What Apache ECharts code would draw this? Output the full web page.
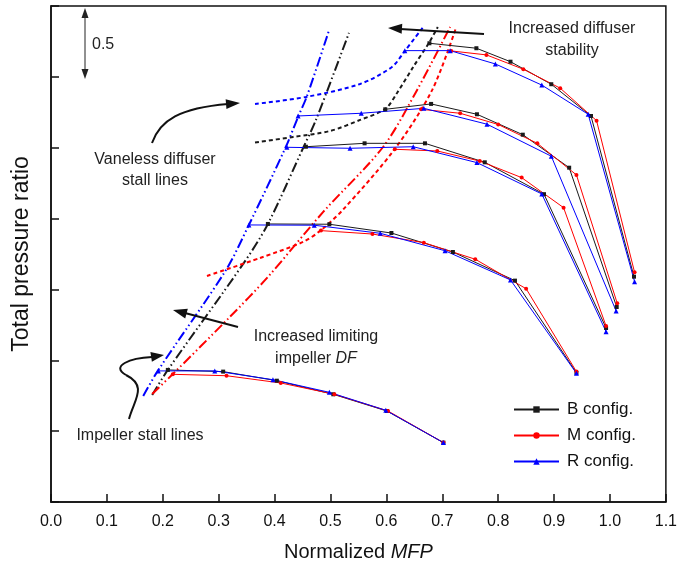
<!DOCTYPE html>
<html><head><meta charset="utf-8">
<script src="https://cdn.jsdelivr.net/npm/echarts@6/dist/echarts.min.js"></script>
<style>html,body{margin:0;padding:0;background:#fff}#c{width:680px;height:573px}</style>
</head><body><div id="c"></div>
<script>
// ---- data (Normalized MFP, Total pressure ratio) ----
const X_TICKS = [0.0,0.1,0.2,0.3,0.4,0.5,0.6,0.7,0.8,0.9,1.0,1.1];
const CONFIGS = ['B config.','M config.','R config.'];
const B_MFP = [
 [0.209,0.308,0.404,0.505,0.601,0.702],
 [0.388,0.498,0.609,0.719,0.830,0.940],
 [0.456,0.561,0.669,0.776,0.882,0.993],
 [0.598,0.680,0.762,0.844,0.927,1.012],
 [0.677,0.761,0.822,0.895,0.966,1.043]
];
const B_PR = [
 [1.432,1.420,1.356,1.260,1.142,0.919],
 [2.462,2.460,2.398,2.264,2.062,1.412],
 [3.007,3.031,3.031,2.897,2.672,1.728],
 [3.271,3.309,3.236,3.092,2.859,1.876],
 [3.737,3.702,3.607,3.448,3.224,2.090]
];
const M_MFP = [
 [0.218,0.314,0.411,0.507,0.603,0.702],
 [0.483,0.575,0.667,0.759,0.850,0.940],
 [0.615,0.691,0.767,0.842,0.917,0.993],
 [0.662,0.732,0.800,0.870,0.940,1.013],
 [0.716,0.779,0.845,0.911,0.976,1.044]
];
const M_PR = [
 [1.401,1.391,1.340,1.260,1.142,0.919],
 [2.415,2.391,2.330,2.213,2.005,1.420],
 [2.989,2.977,2.906,2.789,2.577,1.742],
 [3.271,3.243,3.164,3.031,2.808,1.902],
 [3.683,3.655,3.554,3.420,3.191,2.121]
];
const R_MFP = [
 [0.192,0.293,0.397,0.498,0.599,0.702],
 [0.354,0.471,0.589,0.705,0.822,0.940],
 [0.422,0.535,0.648,0.762,0.878,0.993],
 [0.442,0.555,0.667,0.780,0.895,1.011],
 [0.633,0.714,0.795,0.878,0.961,1.044]
];
const R_PR = [
 [1.425,1.425,1.363,1.274,1.147,0.919],
 [2.455,2.453,2.396,2.273,2.067,1.408],
 [3.003,2.996,3.007,2.895,2.674,1.702],
 [3.224,3.243,3.278,3.166,2.940,1.848],
 [3.685,3.685,3.591,3.442,3.236,2.055]
];
// impeller stall lines (dash-dot-dot)
const IMP_B_X = [0.181,0.209,0.345,0.388,0.451,0.474,0.533];
const IMP_B_Y = [1.255,1.432,2.187,2.462,2.998,3.196,3.810];
const IMP_M_X = [0.181,0.218,0.320,0.388,0.487,0.594,0.655,0.714];
const IMP_M_Y = [1.262,1.403,1.806,2.088,2.547,3.005,3.408,3.852];
const IMP_R_X = [0.165,0.191,0.313,0.354,0.420,0.442,0.458,0.497];
const IMP_R_Y = [1.248,1.425,2.137,2.455,3.005,3.217,3.365,3.824];
// vaneless diffuser stall lines (dashed)
const VD_B_X = [0.365,0.433,0.499,0.553,0.598,0.619,0.648,0.676,0.692];
const VD_B_Y = [3.037,3.076,3.118,3.196,3.274,3.386,3.570,3.739,3.852];
const VD_M_X = [0.279,0.374,0.451,0.481,0.522,0.615,0.682,0.725];
const VD_M_Y = [2.095,2.222,2.335,2.412,2.561,2.991,3.408,3.852];
const VD_R_X = [0.365,0.456,0.553,0.610,0.633,0.666];
const VD_R_Y = [3.309,3.358,3.450,3.570,3.683,3.852];

const FONT = '"Liberation Sans", Arial, sans-serif';
const COL = {B:'#1a1a1a', M:'#ff0000', R:'#0000ff'};
const zip = (xs, ys) => xs.map((x,i)=>[x, ys[i]]);

const series = [];
const cfg = [
  {name:CONFIGS[0], X:B_MFP, Y:B_PR, c:COL.B, sym:'rect', size:4},
  {name:CONFIGS[1], X:M_MFP, Y:M_PR, c:COL.M, sym:'circle', size:4},
  {name:CONFIGS[2], X:R_MFP, Y:R_PR, c:COL.R, sym:'triangle', size:5}
];
cfg.forEach(cf => {
  cf.X.forEach((xs, i) => {
    series.push({type:'line', name:cf.name, data:zip(xs, cf.Y[i]), symbol:cf.sym, symbolSize:cf.size,
      showSymbol:true, lineStyle:{width:1, color:cf.c}, itemStyle:{color:cf.c}, z:4, animation:false});
  });
});
const DDOT = [10,3,1.5,3,1.5,3];
const stall = [
  [IMP_B_X, IMP_B_Y, COL.B, DDOT], [IMP_M_X, IMP_M_Y, COL.M, DDOT], [IMP_R_X, IMP_R_Y, COL.R, DDOT],
  [VD_B_X, VD_B_Y, COL.B, [4,3]], [VD_M_X, VD_M_Y, COL.M, [4,3]], [VD_R_X, VD_R_Y, COL.R, [4,3]]
];
stall.forEach(s => {
  series.push({type:'line', data:zip(s[0], s[1]), smooth:0.3, showSymbol:false, symbol:'none',
    lineStyle:{width:2, color:s[2], type:s[3]}, z:3, animation:false, silent:true});
});

function arrowHead(tx, ty, dx, dy, len, half, color){
  const l = Math.hypot(dx,dy); dx/=l; dy/=l;
  const bx = tx - dx*len, by = ty - dy*len;
  return {type:'polygon', shape:{points:[[tx,ty],[bx - dy*half, by + dx*half],[bx + dy*half, by - dx*half]]},
    style:{fill:color}, z:10};
}
const txt = (x, y, text, extra) => Object.assign({type:'text', x, y,
  style:{text, font:'16px '+FONT, fill:'#222', textAlign:'center', textVerticalAlign:'middle'}, z:10}, extra||{});

const graphic = [
  // 0.5 scale bar
  {type:'line', shape:{x1:85,y1:14,x2:85,y2:72}, style:{stroke:'#222', lineWidth:1}, z:10},
  arrowHead(85, 8, 0, -1, 10, 3.5, '#222'),
  arrowHead(85, 79, 0, 1, 10, 3.5, '#222'),
  {type:'text', x:92, y:45, style:{text:'0.5', font:'16px '+FONT, fill:'#222', textVerticalAlign:'middle'}, z:10},
  // Increased diffuser stability
  {type:'line', shape:{x1:484,y1:34,x2:400,y2:29}, style:{stroke:'#111', lineWidth:2.2}, z:10},
  arrowHead(388, 28, -1, -0.06, 14, 5, '#111'),
  txt(572, 29, 'Increased diffuser'),
  txt(572, 51, 'stability'),
  // Vaneless diffuser stall lines
  {type:'bezierCurve', shape:{x1:152,y1:143,cpx1:160,cpy1:120,cpx2:180,cpy2:108,x2:228,y2:104},
    style:{stroke:'#111', lineWidth:2, fill:null}, z:10},
  arrowHead(240, 103, 1, -0.08, 14, 5, '#111'),
  txt(155, 160, 'Vaneless diffuser'),
  txt(155, 181, 'stall lines'),
  // Increased limiting impeller DF
  {type:'line', shape:{x1:238,y1:327,x2:185,y2:313}, style:{stroke:'#111', lineWidth:2}, z:10},
  arrowHead(173, 310, -1, -0.27, 14, 5, '#111'),
  txt(316, 337, 'Increased limiting'),
  {type:'text', x:316, y:359, style:{text:'{a|impeller }{b|DF}', textAlign:'center', textVerticalAlign:'middle',
    rich:{a:{font:'16px '+FONT, fill:'#222'}, b:{font:'italic 16px '+FONT, fill:'#222'}}}, z:10},
  // Impeller stall lines
  {type:'bezierCurve', shape:{x1:129,y1:419,cpx1:134,cpy1:400,cpx2:148,cpy2:386,x2:126,y2:375},
    style:{stroke:'#111', lineWidth:2, fill:null}, z:10},
  {type:'bezierCurve', shape:{x1:126,y1:375,cpx1:110,cpy1:366,cpx2:130,cpy2:358,x2:152,y2:357},
    style:{stroke:'#111', lineWidth:2, fill:null}, z:10},
  arrowHead(164, 355, 1, -0.15, 13, 5, '#111'),
  txt(140, 436, 'Impeller stall lines')
];

const chart = echarts.init(document.getElementById('c'), null, {renderer:'canvas'});
chart.setOption({
  animation:false,
  backgroundColor:'#fff',
  grid:{left:51, right:14, top:6, bottom:71, show:true, borderColor:'#111', borderWidth:1.5, backgroundColor:'transparent'},
  xAxis:{type:'value', min:0, max:1.1, interval:0.1,
    name:'{a|Normalized }{b|MFP}', nameLocation:'middle', nameGap:40,
    nameTextStyle:{rich:{a:{fontSize:20, fontFamily:FONT, color:'#111'}, b:{fontSize:20, fontFamily:FONT, fontStyle:'italic', color:'#111'}}},
    axisLine:{lineStyle:{color:'#111', width:1.5}},
    axisTick:{inside:true, length:8, lineStyle:{color:'#111', width:1.5}},
    axisLabel:{fontSize:16, fontFamily:FONT, color:'#111', margin:12,
      formatter: v => { const t = X_TICKS.find(k => Math.abs(k - v) < 1e-6); return t === undefined ? '' : t.toFixed(1); }},
    splitLine:{show:false}},
  yAxis:{type:'value', min:0.5, max:4.0, interval:0.5,
    name:'Total pressure ratio', nameLocation:'middle', nameGap:18,
    nameTextStyle:{fontSize:23, fontFamily:FONT, color:'#111'},
    axisLine:{lineStyle:{color:'#111', width:1.5}},
    axisTick:{inside:true, length:8, lineStyle:{color:'#111', width:1.5}},
    axisLabel:{show:false}, splitLine:{show:false}},
  legend:{data:CONFIGS, orient:'vertical', left:513, top:401, padding:0, itemWidth:45, itemHeight:8, itemGap:9,
    textStyle:{fontSize:17, fontFamily:FONT, color:'#111', padding:[0,0,0,3]}, backgroundColor:'transparent'},
  series,
  graphic
});
</script></body></html>
